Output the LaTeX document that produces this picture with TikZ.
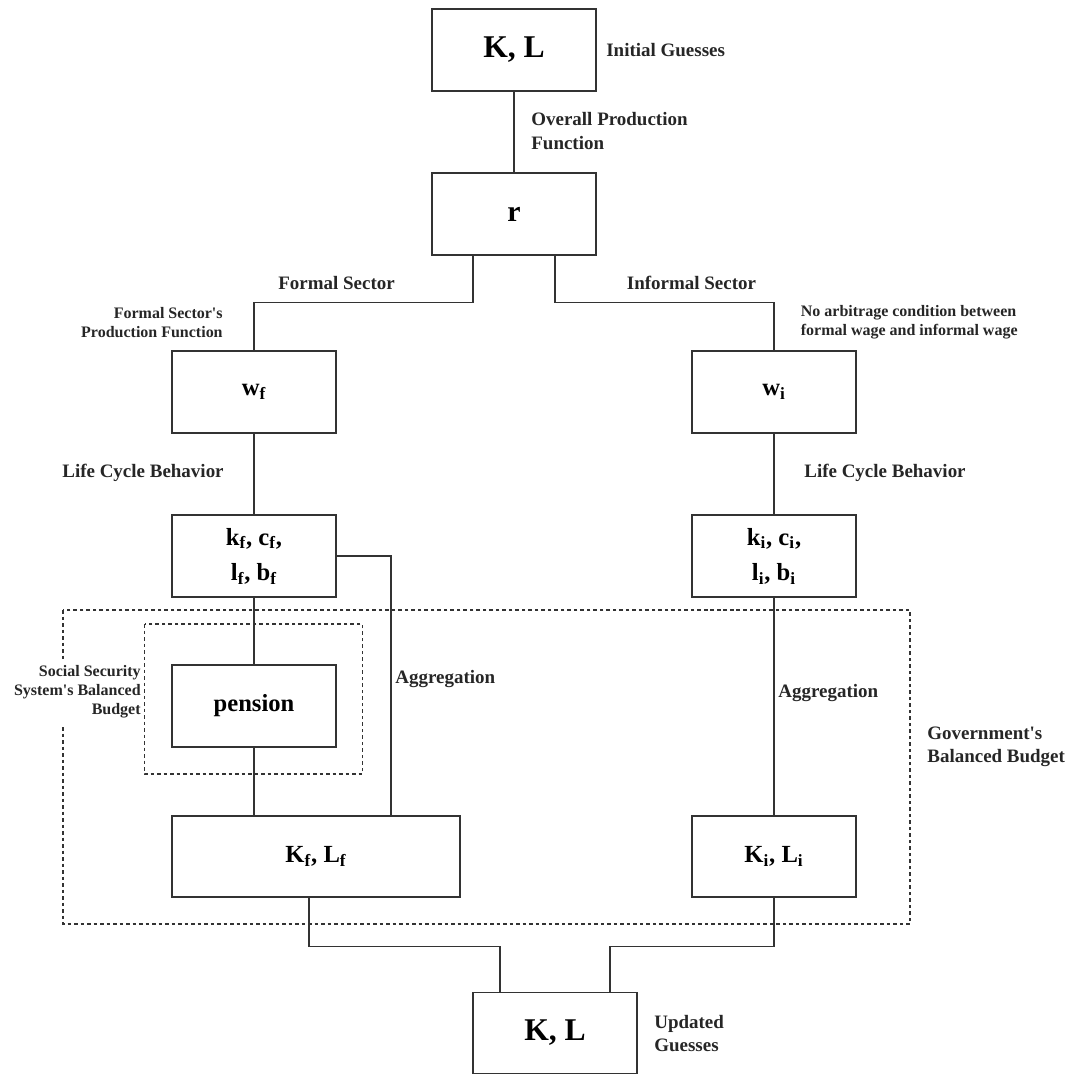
\documentclass[tikz,border=0pt]{standalone}
\usepackage[dvipsnames]{xcolor}
\usepackage{fontspec}
\setmainfont{Liberation Serif}
\usepackage{tikz}

\begin{document}
\begin{tikzpicture}[
      box/.style={draw=black!80, line width=0.7pt, fill=White, inner sep=0pt,
         minimum width=3.28cm, minimum height=1.64cm, align=center,
         font=\fontsize{14}{20}\selectfont\bfseries},
      note/.style={inner sep=0pt, text=black!85,
         font=\fontsize{10.8}{13.3}\selectfont\bfseries},
      smallnote/.style={inner sep=0pt, text=black!85,
         font=\fontsize{9.1}{10.9}\selectfont\bfseries},
      link/.style={draw=black!80, line width=0.7pt},
      budget/.style={draw=black!80, line width=0.7pt, dash pattern=on 2pt off 1.7pt}]
      \useasboundingbox (0,0) rectangle (21.6,-21.5);

      % government's budget
      \draw [budget] (1.26,-12.2) rectangle (18.2,-18.48);
      \node (ssb) at (2.82,-13.84) [smallnote, anchor=east, align=right,
         fill=White, inner ysep=4pt]
         {Social Security\\System\textquotesingle s Balanced\\Budget};
      \draw [budget] (2.89,-12.48) rectangle (7.25,-15.48);

      \node (KL1) at (10.28,-1.0) [box, font=\fontsize{18}{22}\selectfont\bfseries] {K, L};
      \node (r) at (10.28,-4.28) [box, font=\fontsize{17}{22}\selectfont\bfseries] {r};
      \node (wf) at (5.08,-7.84) [box] {w\textsubscript{f}};
      \node (wi) at (15.48,-7.84) [box] {w\textsubscript{i}};
      \node (kf) at (5.08,-11.12) [box] {k\textsubscript{f}, c\textsubscript{f},\\
         l\textsubscript{f}, b\textsubscript{f}};
      \node (ki) at (15.48,-11.12) [box] {k\textsubscript{i}, c\textsubscript{i},\\
         l\textsubscript{i}, b\textsubscript{i}};
      \node (pen) at (5.08,-14.12) [box] {pension};
      \node (Kf) at (6.32,-17.13) [box, minimum width=5.76cm, minimum height=1.62cm]
         {K\textsubscript{f}, L\textsubscript{f}};
      \node (Ki) at (15.48,-17.13) [box, minimum height=1.62cm]
         {K\textsubscript{i}, L\textsubscript{i}};
      \node (KL2) at (11.1,-20.66) [box, minimum height=1.62cm,
         font=\fontsize{18}{22}\selectfont\bfseries] {K, L};

      \node (init) at (12.12,-1.0) [note, anchor=west] {Initial Guesses};
      \node (opf) at (10.62,-2.62) [note, anchor=west, align=left]
         {Overall Production\\Function};
      \node (fs) at (6.73,-5.66) [note] {Formal Sector};
      \node (is) at (13.83,-5.66) [note] {Informal Sector};
      \node (fspf) at (4.46,-6.45) [smallnote, anchor=east, align=right]
         {Formal Sector\textquotesingle s\\Production Function};
      \node (arb) at (16.01,-6.45) [smallnote, anchor=west, align=left]
         {No arbitrage condition between\\formal wage and informal wage};
      \node (lcf) at (4.48,-9.46) [note, anchor=east] {Life Cycle Behavior};
      \node (lci) at (16.08,-9.46) [note, anchor=west] {Life Cycle Behavior};
      \node (agf) at (7.9,-13.58) [note, anchor=west] {Aggregation};
      \node (agi) at (15.56,-13.86) [note, anchor=west] {Aggregation};
      \node (gov) at (18.54,-14.93) [note, anchor=west, align=left]
         {Government\textquotesingle s\\Balanced Budget};
      \node (upd) at (13.08,-20.67) [note, anchor=west, align=left]
         {Updated\\Guesses};

      \draw [link] (KL1) -- (r);
      \draw [link] ([xshift=-0.82cm]r.south) -- ++(0,-0.94) -| (wf.north);
      \draw [link] ([xshift=0.82cm]r.south) -- ++(0,-0.94) -| (wi.north);
      \draw [link] (wf) -- (kf);
      \draw [link] (wi) -- (ki);
      \draw [link] (kf) -- (pen);
      \draw [link] (pen) -- (pen |- Kf.north);
      \draw [link] (kf.east) -| ([xshift=1.5cm]Kf.north);
      \draw [link] (ki) -- (Ki);
      \draw [link] ([xshift=-0.14cm]Kf.south) -- ++(0,-0.97) -| ([xshift=-1.1cm]KL2.north);
      \draw [link] (Ki.south) -- ++(0,-0.97) -| ([xshift=1.1cm]KL2.north);
   \end{tikzpicture}
\end{document}
